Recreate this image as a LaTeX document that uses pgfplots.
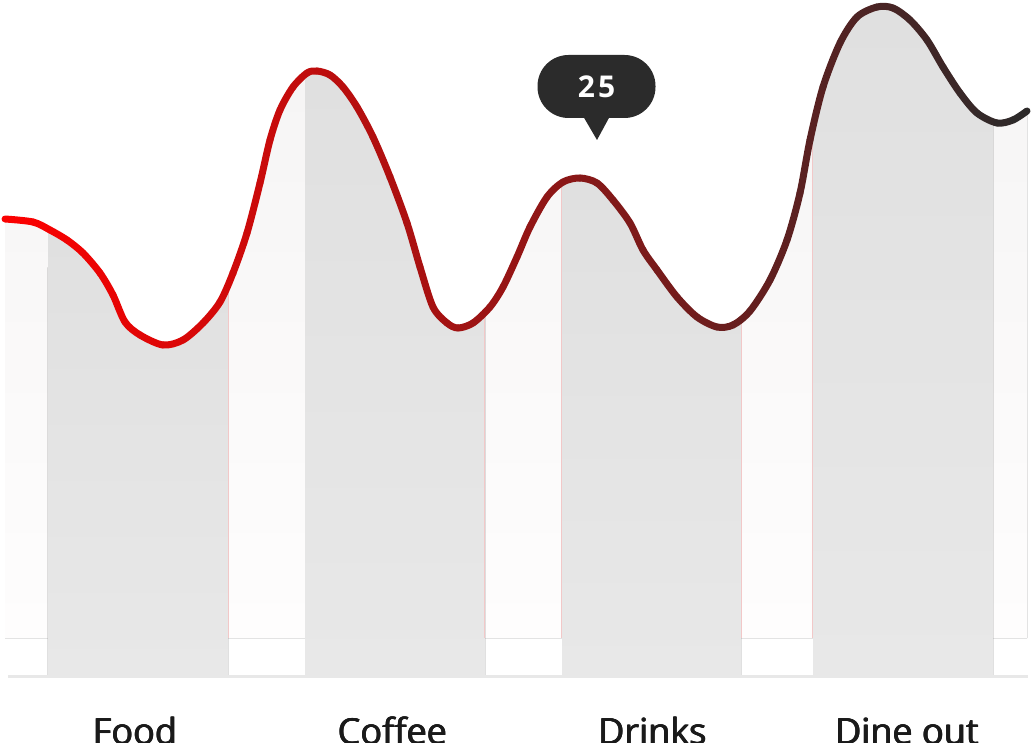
\documentclass[border=0pt]{standalone}
\usepackage{pgfplots}
\pgfplotsset{compat=1.18}
\usepackage{pgfplotstable}
\usepgfplotslibrary{fillbetween}
\usetikzlibrary{decorations.pathreplacing}
\usepackage{fontspec}
\setmainfont{Open Sans}
\definecolor{tipbg}{HTML}{2B2B2B}
\definecolor{bandtop}{HTML}{E0E0E0}
\definecolor{bandbot}{HTML}{E8E8E8}
\definecolor{lighttop}{HTML}{F5F4F4}
\definecolor{lightbot}{HTML}{FEFDFD}
\definecolor{edgec}{HTML}{F2C8C8}
\definecolor{basegray}{HTML}{E8E8E8}
\definecolor{labelc}{HTML}{1A1A1A}
\definecolor{startred}{RGB}{255,0,0}
\definecolor{enddark}{RGB}{45,42,42}
\newdimen\segxa
\newdimen\segxb
\newcommand\fb[1]{\rlap{\raisebox{0.5pt}{#1}}\rlap{\kern0.8pt\raisebox{0.5pt}{#1}}\rlap{\kern0.8pt #1}#1}
\newcommand\segcolor{%
  \pgfextractx{\segxa}{\tikzinputsegmentfirst}%
  \pgfextractx{\segxb}{\tikzinputsegmentlast}%
  \pgfmathsetmacro\pct{min(100,max(0,((\segxa+\segxb)/2-5)/1022*100))}%
  \colorlet{segc}{enddark!\pct!startred}}
\tikzset{gradcurve/.style={decorate, decoration={show path construction,
  curveto code={\segcolor
    \draw[segc, line width=7pt, line cap=round] (\tikzinputsegmentfirst) .. controls (\tikzinputsegmentsupporta) and (\tikzinputsegmentsupportb) .. (\tikzinputsegmentlast);},
  lineto code={\segcolor
    \draw[segc, line width=7pt, line cap=round] (\tikzinputsegmentfirst) -- (\tikzinputsegmentlast);}}}}
\pgfplotstableread{
x y
5 219
33 222
50 230
67 240
83 253
100 273
113 295
125 322
140 335
163 345
183 340
203 323
220 302
233 273
247 233
260 183
270 140
280 110
293 87
307 73
317 71
330 75
343 87
357 107
373 137
390 177
407 223
420 267
433 307
447 323
458 328
473 323
490 307
503 287
517 257
530 227
547 197
563 182
580 178
597 183
613 200
630 223
643 250
657 270
677 297
697 317
717 327
733 325
750 311
770 280
787 240
800 193
810 140
823 87
840 43
857 17
877 7
893 8
910 20
927 40
943 67
960 93
977 113
997 123
1013 120
1027 111
}\curve
\begin{document}
\begin{tikzpicture}
\begin{axis}[
  scale only axis, width=1035pt, height=676.5pt,
  xmin=0, xmax=1035, ymin=0, ymax=676.5, y dir=reverse,
  clip=false, axis line style={draw=none},
  ytick=\empty, xtick={134.5,392,652,906.5},
  xticklabels={\fb{Food},\fb{Coffee},\fb{Drinks},\fb{Dine out}},
  major tick length=0pt, x tick style={draw=none},
  xticklabel style={anchor=base, yshift=-68pt, text=labelc, font=\fontsize{36}{40}\selectfont},
]
\addplot[draw=none, smooth, name path=curve] table[x=x,y=y] {\curve};
\addplot[draw=none, name path=base1] coordinates {(0,638) (1035,638)};
\addplot[draw=none, name path=base2] coordinates {(0,676) (1035,676)};
% light fill under whole curve
\addplot[top color=lighttop, bottom color=lightbot] fill between[of=curve and base1, soft clip={(5,0) rectangle (1027,700)}];
% gray bands
\addplot[top color=bandtop, bottom color=bandbot] fill between[of=curve and base2, soft clip={(48,0) rectangle (228,700)}];
\addplot[top color=bandtop, bottom color=bandbot] fill between[of=curve and base2, soft clip={(305,0) rectangle (485,700)}];
\addplot[top color=bandtop, bottom color=bandbot] fill between[of=curve and base2, soft clip={(562,0) rectangle (741,700)}];
\addplot[top color=bandtop, bottom color=bandbot] fill between[of=curve and base2, soft clip={(813,0) rectangle (993,700)}];
% faint edges
\addplot[edgec, line width=0.7pt] coordinates {(228,285) (228,638)};
\addplot[edgec, line width=0.7pt] coordinates {(484.5,312) (484.5,638)};
\addplot[edgec, line width=0.7pt] coordinates {(741,319) (741,638)};
\addplot[edgec, line width=0.7pt] coordinates {(812.5,130) (812.5,638)};
\addplot[edgec, line width=0.7pt] coordinates {(561.5,183) (561.5,638)};
% baseline
\addplot[basegray, line width=3pt] coordinates {(8,676.5) (1028,676.5)};
% curve, coloured segment by segment from red to dark
\addplot[smooth, gradcurve] table[x=x,y=y] {\curve};
% tooltip
\fill[tipbg] (axis cs:583,116) -- (axis cs:610,116) -- (axis cs:597,140) -- cycle;
\node[fill=tipbg, rounded corners=31pt, minimum width=118pt, minimum height=63pt, inner sep=0pt,
  text=white, font=\fontsize{30}{33}\selectfont\bfseries] at (axis cs:596.5,86.5) {2\kern3pt5};
\coordinate (tl) at (axis cs:0,0);
\coordinate (br) at (axis cs:1035,742);
\end{axis}
\pgfresetboundingbox
\useasboundingbox (tl) rectangle (br);
\end{tikzpicture}
\end{document}
